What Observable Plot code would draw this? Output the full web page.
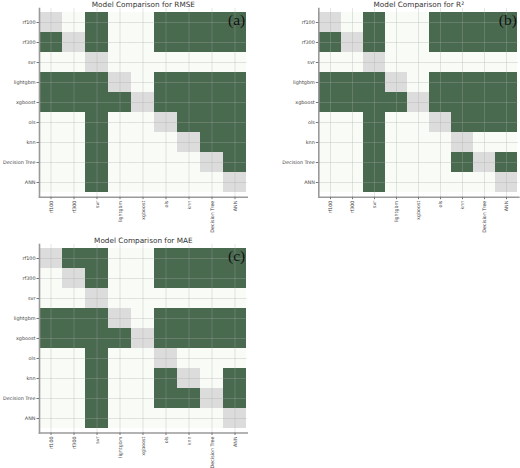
<!DOCTYPE html>
<html>
<head>
<meta charset="utf-8">
<script src="https://cdn.jsdelivr.net/npm/d3@7"></script>
<script src="https://cdn.jsdelivr.net/npm/@observablehq/plot@0.6"></script>
<style>
  html, body { margin: 0; padding: 0; background: #fff; }
  #wrap { position: relative; width: 520px; height: 468px; overflow: hidden; }
  #wrap > svg { position: absolute; }
</style>
</head>
<body>
<div id="wrap"></div>
<script>
const models = ["rf100", "rf300", "svr", "lightgbm", "xgboost", "ols", "knn", "Decision Tree", "ANN"];

// 1 = significant difference (dark), 0 = not significant; diagonal drawn grey
const rmse = [
  [0, 0, 1, 0, 0, 1, 1, 1, 1],
  [1, 0, 1, 0, 0, 1, 1, 1, 1],
  [0, 0, 0, 0, 0, 0, 0, 0, 0],
  [1, 1, 1, 0, 0, 1, 1, 1, 1],
  [1, 1, 1, 1, 0, 1, 1, 1, 1],
  [0, 0, 1, 0, 0, 0, 1, 1, 1],
  [0, 0, 1, 0, 0, 0, 0, 1, 1],
  [0, 0, 1, 0, 0, 0, 0, 0, 1],
  [0, 0, 1, 0, 0, 0, 0, 0, 0]
];
const r2 = [
  [0, 0, 1, 0, 0, 1, 1, 1, 1],
  [1, 0, 1, 0, 0, 1, 1, 1, 1],
  [0, 0, 0, 0, 0, 0, 0, 0, 0],
  [1, 1, 1, 0, 0, 1, 1, 1, 1],
  [1, 1, 1, 1, 0, 1, 1, 1, 1],
  [0, 0, 1, 0, 0, 0, 1, 1, 1],
  [0, 0, 1, 0, 0, 0, 0, 0, 0],
  [0, 0, 1, 0, 0, 0, 1, 0, 1],
  [0, 0, 1, 0, 0, 0, 0, 0, 0]
];
const mae = [
  [0, 1, 1, 0, 0, 1, 1, 1, 1],
  [0, 0, 1, 0, 0, 1, 1, 1, 1],
  [0, 0, 0, 0, 0, 0, 0, 0, 0],
  [1, 1, 1, 0, 0, 1, 1, 1, 1],
  [1, 1, 1, 1, 0, 1, 1, 1, 1],
  [0, 0, 1, 0, 0, 0, 0, 0, 0],
  [0, 0, 1, 0, 0, 1, 0, 0, 1],
  [0, 0, 1, 0, 0, 1, 1, 0, 1],
  [0, 0, 1, 0, 0, 0, 0, 0, 0]
];

const titles = ["Model Comparison for RMSE", "Model Comparison for R²", "Model Comparison for MAE"];
const panelLabels = ["(a)", "(b)", "(c)"];

const DARK = "#4a6a50", LIGHT = "#f8fbf6", DIAG = "#dcdcdc";

function cells(mat) {
  const out = [];
  mat.forEach((row, i) => row.forEach((v, j) => {
    out.push({row: models[i], col: models[j], k: i === j ? "d" : (v ? "s" : "n")});
  }));
  return out;
}

function panel(mat, title, label, m) {
  return Plot.plot({
    width: 260, height: 234,
    marginLeft: m.l, marginRight: m.r, marginTop: m.t, marginBottom: m.b,
    style: {fontFamily: "DejaVu Sans, sans-serif", background: "transparent", overflow: "visible"},
    x: {domain: models, padding: 0, label: null},
    y: {domain: models, padding: 0, label: null},
    color: {domain: ["n", "s", "d"], range: [LIGHT, DARK, DIAG]},
    marks: [
      Plot.cell(cells(mat), {x: "col", y: "row", fill: "k", inset: 0}),
      Plot.ruleX(models, {stroke: "#a8a8a8", strokeOpacity: 0.3, strokeWidth: 1}),
      Plot.ruleY(models, {stroke: "#a8a8a8", strokeOpacity: 0.3, strokeWidth: 1}),
      Plot.frame({anchor: "left", stroke: "#9a9a9a", strokeWidth: 1.6}),
      Plot.frame({anchor: "bottom", stroke: "#9a9a9a", strokeWidth: 1.6}),
      Plot.axisX({fontSize: 4.8, fill: "#444", stroke: "#777", tickRotate: -90, tickSize: 2.5, tickPadding: 1, label: null}),
      Plot.axisY({fontSize: 4.9, fill: "#444", stroke: "#777", tickSize: 2.5, tickPadding: 1.5, label: null}),
      Plot.text([title], {frameAnchor: "top", dy: -4.3, lineAnchor: "middle", fontSize: 7.3, fill: "#333"}),
      Plot.text([label], {frameAnchor: "top-right", dx: -2, dy: 16, lineAnchor: "bottom", textAnchor: "end",
        fontSize: 15.5, fill: "#111", fontFamily: "Liberation Serif, DejaVu Serif, serif"})
    ]
  });
}

const wrap = document.getElementById("wrap");
const layout = [
  {mat: rmse, left: 0, top: 0, m: {l: 39, r: 13.3, t: 8, b: 37.3}},
  {mat: r2, left: 260, top: 0, m: {l: 58.3, r: 1.7, t: 8, b: 37.3}},
  {mat: mae, left: 0, top: 234, m: {l: 39, r: 13.3, t: 10, b: 35.5}}
];
layout.forEach((p, i) => {
  const svg = panel(p.mat, titles[i], panelLabels[i], p.m);
  svg.style.left = p.left + "px";
  svg.style.top = p.top + "px";
  wrap.appendChild(svg);
});
</script>
</body>
</html>
